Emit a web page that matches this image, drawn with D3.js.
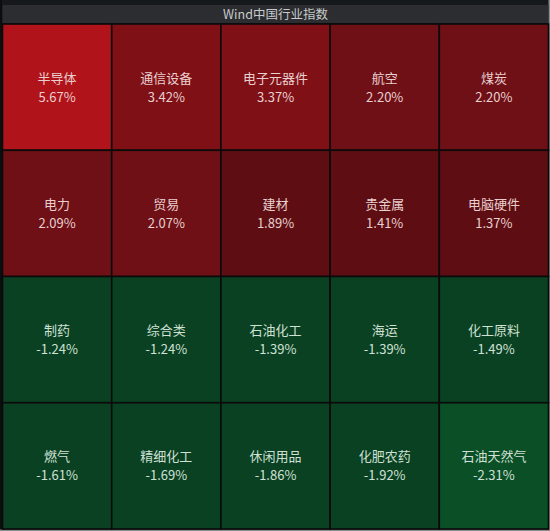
<!DOCTYPE html>
<html>
<head>
<meta charset="utf-8">
<script src="https://cdn.jsdelivr.net/npm/d3@7"></script>
<style>
  html, body { margin: 0; padding: 0; background: #15191c; }
  svg { display: block; }
</style>
</head>
<body>
<figure style="margin:0"></figure>
<script>
const title = 'Wind中国行业指数';
const industries = ['半导体', '通信设备', '电子元器件', '航空', '煤炭',
  '电力', '贸易', '建材', '贵金属', '电脑硬件',
  '制药', '综合类', '石油化工', '海运', '化工原料',
  '燃气', '精细化工', '休闲用品', '化肥农药', '石油天然气'];
const changes = [5.67, 3.42, 3.37, 2.20, 2.20,
  2.09, 2.07, 1.89, 1.41, 1.37,
  -1.24, -1.24, -1.39, -1.39, -1.49,
  -1.61, -1.69, -1.86, -1.92, -2.31];
const colBins = [0, 1, 2, 3, 4];
const rowBins = [0, 1, 2, 3];

(() => {
  const totalWidth = 550;
  const totalHeight = 531;
  const grid = {left: 2.5, right: 548.5, top: 24, bottom: 529};

  const svg = d3.select('figure').append('svg')
    .attr('width', totalWidth)
    .attr('height', totalHeight)
    .style('background-color', '#15191c');

  // outer frame
  svg.append('rect')
    .attr('x', 0).attr('y', 0)
    .attr('width', 2).attr('height', totalHeight)
    .attr('fill', '#0c0d0e');
  svg.append('rect')
    .attr('x', 548.5).attr('y', 0)
    .attr('width', 1.5).attr('height', totalHeight)
    .attr('fill', '#8a8d8f');
  svg.append('rect')
    .attr('x', 0).attr('y', 529.5)
    .attr('width', totalWidth).attr('height', 1.5)
    .attr('fill', '#8a8d8f');

  // header
  svg.append('rect')
    .attr('x', grid.left).attr('y', 5)
    .attr('width', grid.right - grid.left).attr('height', 18)
    .attr('fill', '#2b2d30');
  svg.append('text')
    .attr('x', (grid.left + grid.right) / 2)
    .attr('y', 18.5)
    .attr('text-anchor', 'middle')
    .attr('fill', '#c9cacb')
    .style('font-family', '"Noto Sans CJK SC", "Noto Sans", sans-serif')
    .style('font-size', '12.5px')
    .text(title);

  const x = d3.scaleBand().domain(colBins).range([grid.left, grid.right]).padding(0);
  const y = d3.scaleBand().domain(rowBins).range([grid.top, grid.bottom]).padding(0);

  const color = d3.scaleThreshold()
    .domain([-2, 0, 2, 3, 4])
    .range(['#0b4f27', '#0a4122', '#5e0e12', '#6e1015', '#7f1116', '#b0141a']);

  const fmt = (v) => v.toFixed(2) + '%';

  const cells = industries.map((name, i) => ({
    name, value: changes[i], col: i % 5, row: Math.floor(i / 5)
  }));

  const g = svg.append('g');

  g.selectAll('rect.cell')
    .data(cells)
    .join('rect')
      .attr('class', 'cell')
      .attr('x', (d) => x(d.col))
      .attr('y', (d) => y(d.row))
      .attr('width', x.bandwidth())
      .attr('height', y.bandwidth())
      .attr('fill', (d) => color(d.value))
      .attr('stroke', '#0a0a0a')
      .attr('stroke-width', 1.6);

  const labels = g.selectAll('g.label')
    .data(cells)
    .join('g')
      .attr('class', 'label')
      .attr('transform', (d) => `translate(${x(d.col) + x.bandwidth() / 2}, ${y(d.row) + y.bandwidth() / 2})`)
      .style('font-family', '"Noto Sans CJK SC", "Noto Sans", sans-serif')
      .style('font-size', '13px')
      .attr('text-anchor', 'middle');

  labels.append('text')
    .attr('y', -4.5)
    .attr('fill', (d) => d.value >= 0 ? '#e9cfd0' : '#cfe0d5')
    .text((d) => d.name);

  labels.append('text')
    .attr('y', 14.5)
    .attr('fill', (d) => d.value >= 0 ? '#e9cfd0' : '#cfe0d5')
    .text((d) => fmt(d.value));
})();
</script>
</body>
</html>
